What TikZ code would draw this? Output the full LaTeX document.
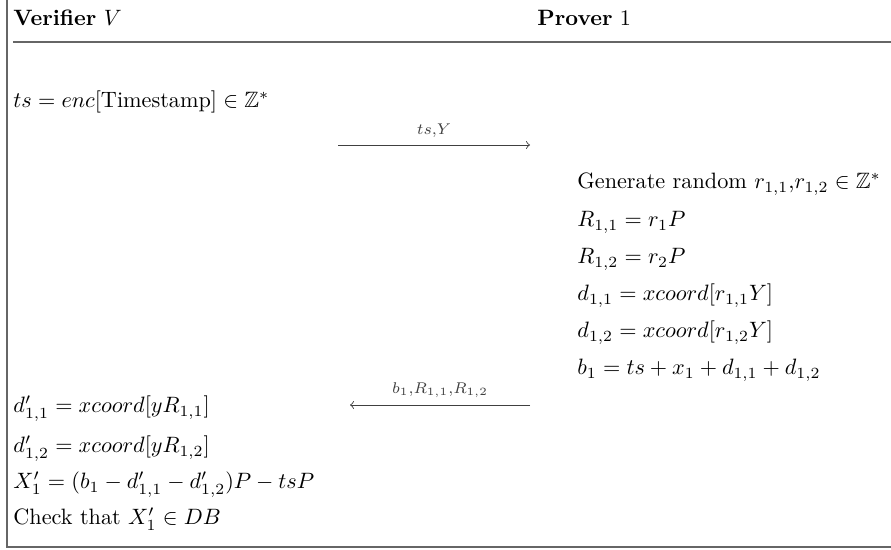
\documentclass[tikz,border=0pt]{standalone}
\usepackage{amsmath,amssymb}
\begin{document}
\begin{tikzpicture}[x=0.45pt,y=-0.45pt,
  txt/.style={anchor=base west, inner sep=0pt},
  lbl/.style={anchor=base, inner sep=0pt, font=\scriptsize},
  msg/.style={->, >=to, line width=0.4pt, black!75},
  rule/.style={line width=0.8pt, black!60}]
\useasboundingbox (0,0) rectangle (891,550);
\draw[rule] (7,0) -- (7,547) -- (891,547);
\draw[rule] (13,42) -- (891,42);
\node[txt] (hv) at (13,26) {\textbf{Verifier} $V$};
\node[txt] (hp) at (537,26) {\textbf{Prover} 1};
\node[txt] (ts) at (13,108) {$ts = enc[\text{Timestamp}] \in \mathbb{Z}^*$};
\coordinate (a1s) at (338,145);
\coordinate (a1e) at (530,145);
\draw[msg] (a1s) -- node[lbl, above=3pt] (l1) {$ts$,$Y$} (a1e);
\node[txt] (gen) at (577,189) {Generate random $r_{1,1}$,$r_{1,2} \in \mathbb{Z}^*$};
\node[txt] (r11) at (577,227) {$R_{1,1} = r_1P$};
\node[txt] (r12) at (577,264) {$R_{1,2} = r_2P$};
\node[txt] (d11) at (577,301) {$d_{1,1} = xcoord[r_{1,1}Y]$};
\node[txt] (d12) at (577,338) {$d_{1,2} = xcoord[r_{1,2}Y]$};
\node[txt] (b1) at (577,375) {$b_1 = ts + x_1 + d_{1,1} + d_{1,2}$};
\coordinate (a2s) at (530,405);
\coordinate (a2e) at (350,405);
\draw[msg] (a2s) -- node[lbl, above=3pt] (l2) {$b_1$,$R_{1,1}$,$R_{1,2}$} (a2e);
\node[txt] (dp11) at (13,413) {$d'_{1,1} = xcoord[yR_{1,1}]$};
\node[txt] (dp12) at (13,453) {$d'_{1,2} = xcoord[yR_{1,2}]$};
\node[txt] (xp) at (13,489) {$X'_1 = (b_1 - d'_{1,1} - d'_{1,2})P - tsP$};
\node[txt] (chk) at (13,525) {Check that $X'_1 \in DB$};
\end{tikzpicture}
\end{document}
